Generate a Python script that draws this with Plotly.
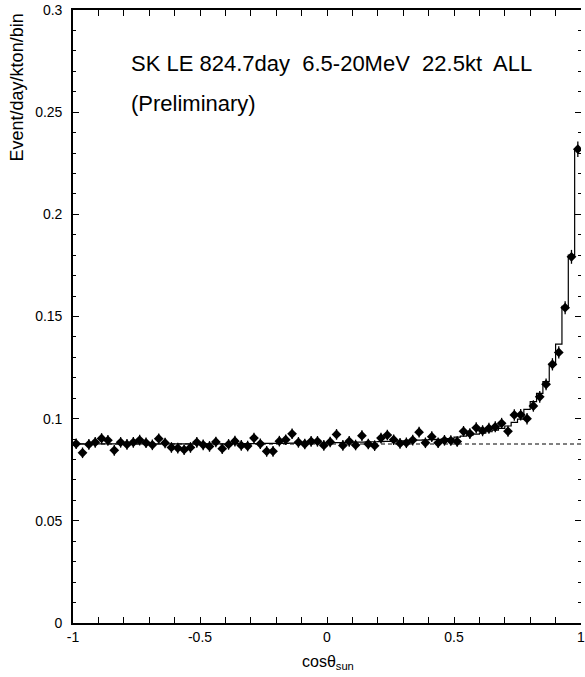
import plotly.graph_objects as go

# ---- data ----
bin_width = 0.025
n_bins = 80
bin_lo = -1.0

data_vals = [
    0.0877, 0.0833, 0.0874, 0.0884, 0.0903, 0.0894, 0.0845, 0.0884, 0.0874, 0.0884,
    0.0895, 0.0882, 0.0872, 0.0902, 0.0881, 0.0859, 0.0856, 0.0848, 0.0859, 0.0884,
    0.0872, 0.0864, 0.0886, 0.0853, 0.0874, 0.0890, 0.0869, 0.0866, 0.0905, 0.0877,
    0.0840, 0.0840, 0.0890, 0.0897, 0.0926, 0.0884, 0.0876, 0.0889, 0.0889, 0.0869,
    0.0886, 0.0923, 0.0869, 0.0889, 0.0871, 0.0917, 0.0876, 0.0868, 0.0905, 0.0920,
    0.0897, 0.0879, 0.0882, 0.0895, 0.0934, 0.0882, 0.0912, 0.0882, 0.0894, 0.0893,
    0.0888, 0.0938, 0.0927, 0.0955, 0.0941, 0.0953, 0.0960, 0.0977, 0.0938, 0.1018,
    0.1019, 0.1000, 0.1062, 0.1107, 0.1168, 0.1266, 0.1324, 0.1543, 0.1792, 0.2319,
]

data_err = [
    0.0026, 0.0026, 0.0026, 0.0026, 0.0026, 0.0026, 0.0026, 0.0026, 0.0026, 0.0026,
    0.0026, 0.0026, 0.0026, 0.0026, 0.0026, 0.0026, 0.0026, 0.0026, 0.0026, 0.0026,
    0.0026, 0.0026, 0.0026, 0.0026, 0.0026, 0.0026, 0.0026, 0.0026, 0.0026, 0.0026,
    0.0026, 0.0026, 0.0026, 0.0026, 0.0026, 0.0026, 0.0026, 0.0026, 0.0026, 0.0026,
    0.0026, 0.0026, 0.0026, 0.0026, 0.0026, 0.0026, 0.0026, 0.0026, 0.0026, 0.0026,
    0.0026, 0.0026, 0.0026, 0.0026, 0.0026, 0.0026, 0.0026, 0.0026, 0.0026, 0.0026,
    0.0026, 0.0026, 0.0026, 0.0027, 0.0027, 0.0027, 0.0027, 0.0027, 0.0027, 0.0028,
    0.0028, 0.0028, 0.0028, 0.0029, 0.0029, 0.0030, 0.0030, 0.0032, 0.0034, 0.0038,
]

fit_vals = [
    0.0877, 0.0877, 0.0877, 0.0877, 0.0877, 0.0877, 0.0877, 0.0877, 0.0877, 0.0877,
    0.0877, 0.0877, 0.0877, 0.0877, 0.0877, 0.0877, 0.0877, 0.0877, 0.0877, 0.0877,
    0.0877, 0.0877, 0.0877, 0.0877, 0.0877, 0.0878, 0.0878, 0.0878, 0.0878, 0.0878,
    0.0879, 0.0879, 0.0879, 0.0879, 0.0880, 0.0880, 0.0880, 0.0881, 0.0881, 0.0882,
    0.0882, 0.0883, 0.0883, 0.0884, 0.0885, 0.0885, 0.0886, 0.0887, 0.0888, 0.0889,
    0.0890, 0.0891, 0.0892, 0.0893, 0.0895, 0.0896, 0.0897, 0.0899, 0.0900, 0.0903,
    0.0910, 0.0915, 0.0919, 0.0924, 0.0929, 0.0936, 0.0944, 0.0952, 0.0964, 0.0982,
    0.0998, 0.1045, 0.1083, 0.1124, 0.1181, 0.1262, 0.1365, 0.1550, 0.1800, 0.2320,
]

background_level = 0.0876

x_tickvals = [-1, -0.5, 0, 0.5, 1]
x_ticktext = ["-1", "-0.5", "0", "0.5", "1"]
y_tickvals = [0, 0.05, 0.1, 0.15, 0.2, 0.25, 0.3]
y_ticktext = ["0", "0.05", "0.1", "0.15", "0.2", "0.25", "0.3"]

title_line1 = "SK LE 824.7day  6.5-20MeV  22.5kt  ALL"
title_line2 = "(Preliminary)"
y_title = "Event/day/kton/bin"
x_title = "cosθ<sub>sun</sub>"

# ---- derived ----
edges = [bin_lo + i * bin_width for i in range(n_bins + 1)]
centers = [bin_lo + (i + 0.5) * bin_width for i in range(n_bins)]

W, H = 585, 677
ML, MR, MT, MB = 73, 0, 10, 54
PW, PH = W - ML - MR, H - MT - MB

def px_to_paper_x(px):
    return (px - ML) / PW

def px_to_paper_y(py):
    return (H - MB - py) / PH

FONT = "Liberation Sans, Arial, sans-serif"

fig = go.Figure()

# background dashed line
fig.add_trace(go.Scatter(
    x=[edges[0], edges[-1]], y=[background_level, background_level],
    mode="lines", line=dict(color="black", width=1, dash="4px,3px"),
    hoverinfo="skip", showlegend=False,
))

# fit step histogram
fig.add_trace(go.Scatter(
    x=edges, y=fit_vals + [fit_vals[-1]],
    mode="lines", line=dict(color="black", width=1.2, shape="hv"),
    hoverinfo="skip", showlegend=False,
))

# data points
fig.add_trace(go.Scatter(
    x=centers, y=data_vals,
    mode="markers",
    marker=dict(symbol="diamond", size=7.5, color="black", line=dict(width=0)),
    error_y=dict(type="data", array=data_err, visible=True, color="black",
                 thickness=1.3, width=0),
    showlegend=False,
))

# empty trace for the right-hand tick axis
fig.add_trace(go.Scatter(x=[], y=[], yaxis="y2", showlegend=False, hoverinfo="skip"))

tick_common = dict(
    showgrid=False, zeroline=False, linecolor="black",
    ticks="inside", ticklen=6, tickwidth=1, tickcolor="black",
    tickfont=dict(family=FONT, size=14, color="black"),
)

fig.update_layout(
    xaxis=dict(
        range=[-1, 1], tickvals=x_tickvals, ticktext=x_ticktext,
        showline=True, linewidth=1.6, mirror="allticks",
        ticklabeloverflow="allow",
        minor=dict(dtick=0.1, ticks="inside", ticklen=3, tickcolor="black", showgrid=False),
        **tick_common,
    ),
    yaxis=dict(
        range=[0, 0.3], tickvals=y_tickvals, ticktext=y_ticktext,
        showline=True, linewidth=1.6, mirror=False,
        ticklabelstandoff=6,
        minor=dict(dtick=0.01, ticks="inside", ticklen=3, tickcolor="black", showgrid=False),
        **tick_common,
    ),
    yaxis2=dict(
        range=[0, 0.3], overlaying="y", side="right", showline=False,
        tickvals=y_tickvals, showticklabels=False,
        minor=dict(dtick=0.01, ticks="inside", ticklen=3, tickcolor="black", showgrid=False),
        **tick_common,
    ),
)

annotations = [
    dict(text=title_line1, x=px_to_paper_x(129), y=px_to_paper_y(63),
         xanchor="left", yanchor="middle", font=dict(family=FONT, size=22)),
    dict(text=title_line2, x=px_to_paper_x(129), y=px_to_paper_y(103),
         xanchor="left", yanchor="middle", font=dict(family=FONT, size=22)),
    dict(text=y_title, x=px_to_paper_x(17), y=px_to_paper_y(87),
         xanchor="center", yanchor="middle", textangle=-90,
         font=dict(family=FONT, size=18)),
    dict(text=x_title, x=px_to_paper_x(330), y=px_to_paper_y(662),
         xanchor="center", yanchor="middle", font=dict(family=FONT, size=16)),
]
for a in annotations:
    a.update(xref="paper", yref="paper", showarrow=False)
    a["font"]["color"] = "black"

fig.update_layout(
    width=W, height=H,
    margin=dict(l=ML, r=MR, t=MT, b=MB, pad=0),
    paper_bgcolor="white", plot_bgcolor="white",
    annotations=annotations,
    showlegend=False,
)

fig.write_html("out.html", config={"displayModeBar": False})
